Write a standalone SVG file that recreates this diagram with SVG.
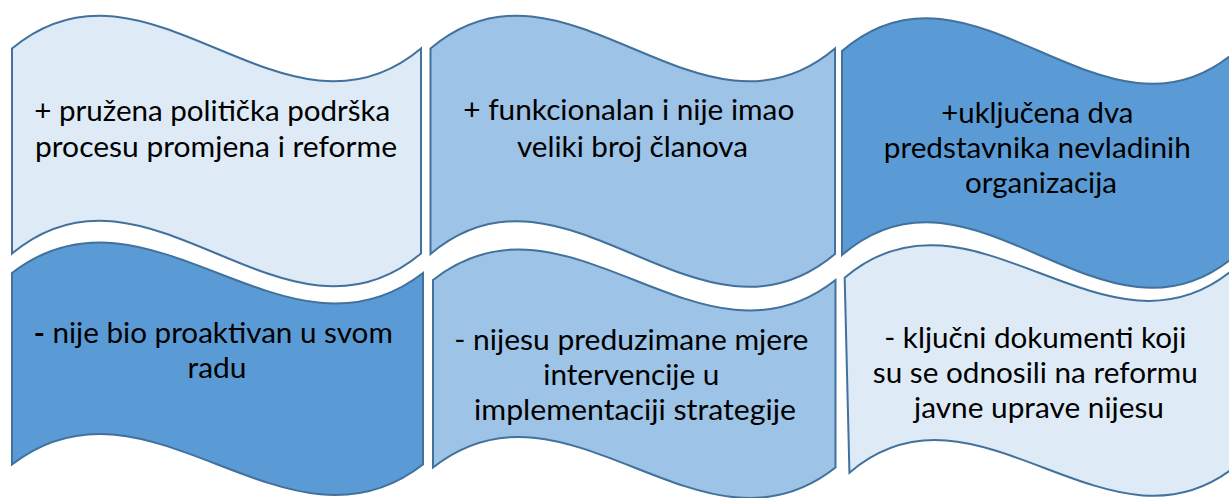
<svg xmlns="http://www.w3.org/2000/svg" width="1229" height="498" viewBox="0 0 1229 498">
  <style>
    .wave { stroke: #41719C; stroke-width: 2; stroke-linejoin: miter; }
    .light { fill: #DEEBF7; }
    .mid { fill: #9DC3E6; }
    .dark { fill: #5B9BD5; }
    .lbl { font-family: Lato, "Open Sans", sans-serif; font-size: 29px; fill: #000000; text-anchor: middle; }
  </style>
  <rect x="0" y="0" width="1229" height="498" fill="#FFFFFF"/>

  <g id="node-a">
    <path class="wave light" d="M12,48.5 C148.3,-65.5 284.7,162.5 421,48.5 L421,253.5 C284.7,367.5 148.3,139.5 12,253.5 Z"/>
    <text class="lbl">
      <tspan x="216" y="121" textLength="356" lengthAdjust="spacingAndGlyphs">+ pružena politička podrška</tspan>
      <tspan x="216" y="157" textLength="362" lengthAdjust="spacingAndGlyphs">procesu promjena i reforme</tspan>
    </text>
  </g>

  <g id="node-b">
    <path class="wave mid" d="M430.5,48.5 C565.3,-65.5 700.2,162.5 835,48.5 L835,254 C700.2,368 565.3,140 430.5,254 Z"/>
    <text class="lbl">
      <tspan x="632.5" y="120" textLength="331" lengthAdjust="spacingAndGlyphs">+ funkcionalan i nije imao</tspan>
      <tspan x="632.5" y="157" textLength="231" lengthAdjust="spacingAndGlyphs">veliki broj članova</tspan>
    </text>
  </g>

  <g id="node-c">
    <path class="wave dark" d="M842,51 C973.3,-63 1104.7,165 1236,51 L1236,255 C1104.7,369 973.3,141 842,255 Z"/>
    <text class="lbl">
      <tspan x="1041" y="123" textLength="192" lengthAdjust="spacingAndGlyphs">+uključena dva</tspan>
      <tspan x="1041" y="158" textLength="307" lengthAdjust="spacingAndGlyphs">predstavnika nevladinih</tspan>
      <tspan x="1041" y="193" textLength="152" lengthAdjust="spacingAndGlyphs">organizacija</tspan>
    </text>
  </g>

  <g id="node-d">
    <path class="wave dark" d="M12,273 C149,167 286,379 423,273 L423,464.5 C286,570.5 149,358.5 12,464.5 Z"/>
    <text class="lbl">
      <tspan x="217" y="343" textLength="359" lengthAdjust="spacingAndGlyphs"><tspan font-weight="bold">-</tspan> nije bio proaktivan u svom</tspan>
      <tspan x="217" y="378" textLength="59" lengthAdjust="spacingAndGlyphs">radu</tspan>
    </text>
  </g>

  <g id="node-e">
    <path class="wave mid" d="M433,280 C567.2,174 701.3,386 835.5,280 L835.5,467.5 C701.3,573.5 567.2,361.5 433,467.5 Z"/>
    <text class="lbl">
      <tspan x="635" y="350" textLength="354" lengthAdjust="spacingAndGlyphs">- nijesu preduzimane mjere</tspan>
      <tspan x="635" y="385" textLength="176" lengthAdjust="spacingAndGlyphs">intervencije u</tspan>
      <tspan x="635" y="420" textLength="322" lengthAdjust="spacingAndGlyphs">implementaciji strategije</tspan>
    </text>
  </g>

  <g id="node-f">
    <path class="wave light" transform="rotate(-1.4 1042 370.5)" d="M847,273 C977,167 1107,379 1237,273 L1237,468 C1107,574 977,362 847,468 Z"/>
    <text class="lbl">
      <tspan x="1039" y="348" textLength="302" lengthAdjust="spacingAndGlyphs">- ključni dokumenti koji</tspan>
      <tspan x="1039" y="383" textLength="325" lengthAdjust="spacingAndGlyphs">su se odnosili na reformu</tspan>
      <tspan x="1039" y="418" textLength="250" lengthAdjust="spacingAndGlyphs">javne uprave nijesu</tspan>
    </text>
  </g>
</svg>
